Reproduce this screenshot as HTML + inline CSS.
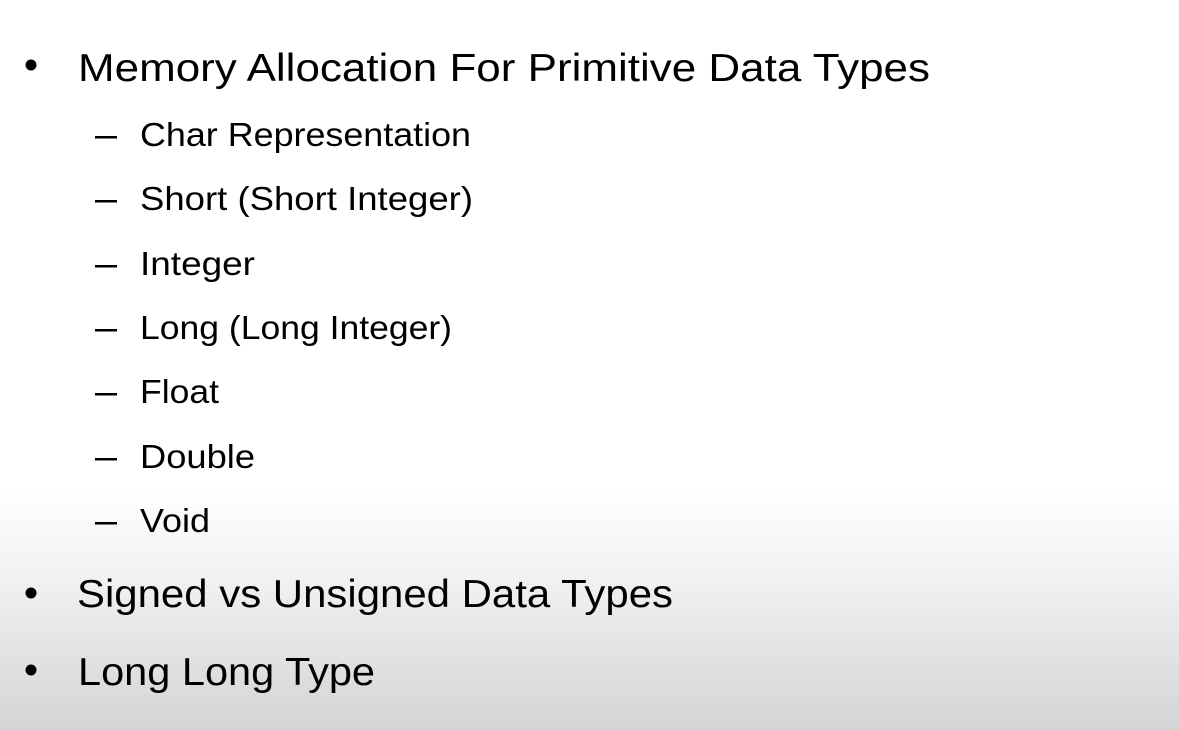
<!DOCTYPE html>
<html><head><style>
html,body{margin:0;padding:0;}
body{width:1179px;height:730px;overflow:hidden;background:linear-gradient(to bottom,#fff 0px,#fff 490px,#f1f1f1 580px,#d4d4d4 730px);}
svg{position:absolute;left:0;top:0;}
text{font-family:"Liberation Sans",sans-serif;fill:#000;}
</style></head><body>
<svg width="1179" height="730">
<circle cx="31" cy="65" r="5.5" fill="#000"/>
<text x="78" y="81" font-size="39" textLength="852" lengthAdjust="spacingAndGlyphs">Memory Allocation For Primitive Data Types</text>
<g fill="#000">
<rect x="95" y="136" width="22" height="2.5"/>
<rect x="95" y="200" width="22" height="2.5"/>
<rect x="95" y="265" width="22" height="2.5"/>
<rect x="95" y="329" width="22" height="2.5"/>
<rect x="95" y="393" width="22" height="2.5"/>
<rect x="95" y="458" width="22" height="2.5"/>
<rect x="95" y="522" width="22" height="2.5"/>
</g>
<g font-size="33">
<text x="140" y="146" textLength="331" lengthAdjust="spacingAndGlyphs">Char Representation</text>
<text x="140" y="210" textLength="333" lengthAdjust="spacingAndGlyphs">Short (Short Integer)</text>
<text x="140" y="275" textLength="115" lengthAdjust="spacingAndGlyphs">Integer</text>
<text x="140" y="339" textLength="312" lengthAdjust="spacingAndGlyphs">Long (Long Integer)</text>
<text x="140" y="403" textLength="79" lengthAdjust="spacingAndGlyphs">Float</text>
<text x="140" y="468" textLength="115" lengthAdjust="spacingAndGlyphs">Double</text>
<text x="140" y="532" textLength="70" lengthAdjust="spacingAndGlyphs">Void</text>
</g>
<circle cx="31" cy="593" r="5.5" fill="#000"/>
<text x="77" y="607" font-size="39" textLength="596" lengthAdjust="spacingAndGlyphs">Signed vs Unsigned Data Types</text>
<circle cx="31" cy="670" r="5.5" fill="#000"/>
<text x="78" y="685" font-size="39" textLength="297" lengthAdjust="spacingAndGlyphs">Long Long Type</text>
</svg>
</body></html>
